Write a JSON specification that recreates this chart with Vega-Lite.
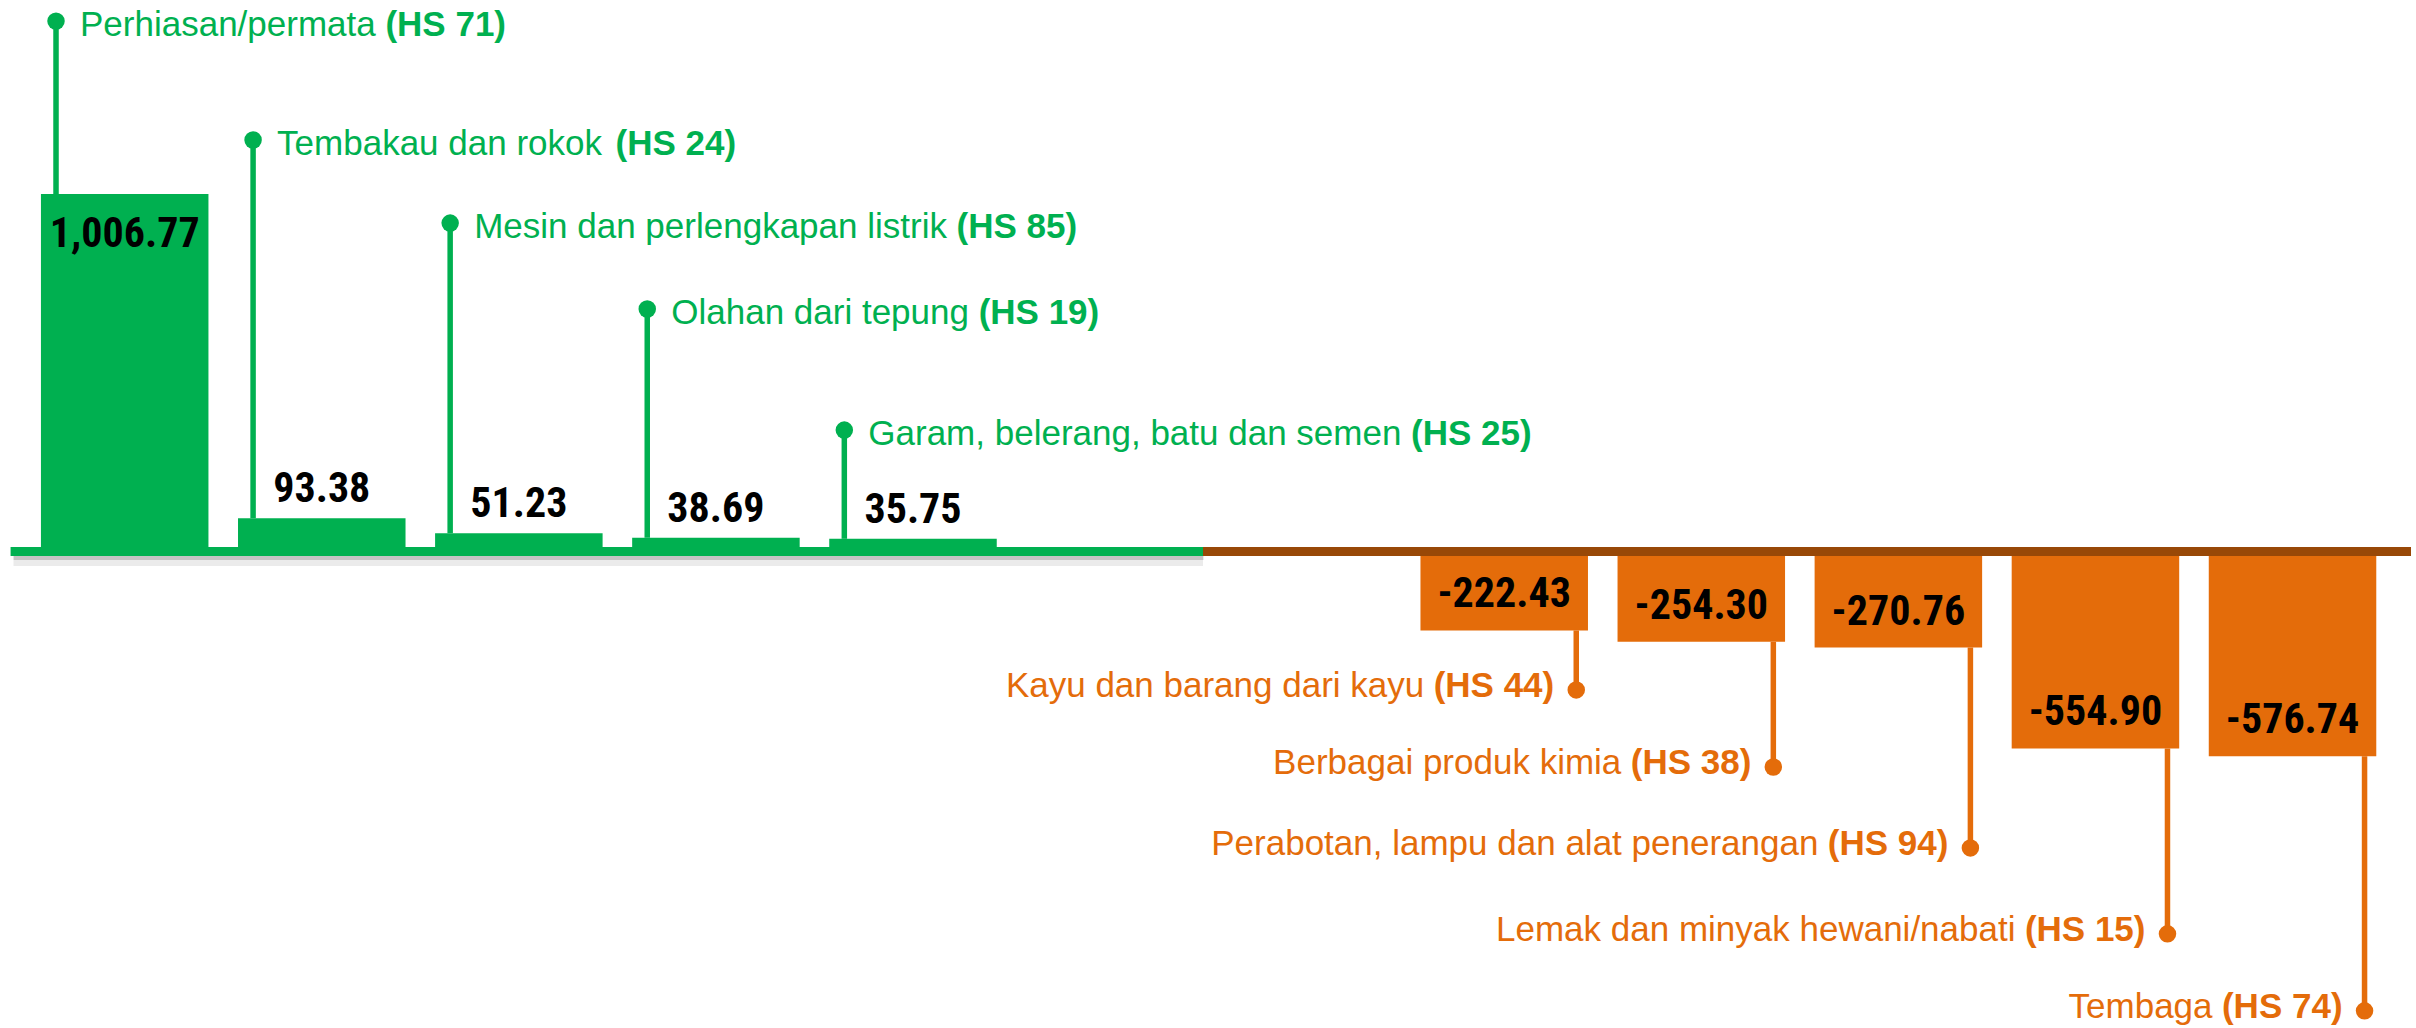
{
  "$schema": "https://vega.github.io/schema/vega-lite/v6.json",
  "width": 2416,
  "height": 1028,
  "padding": 0,
  "autosize": {"type": "fit", "contains": "padding"},
  "background": "white",
  "config": {
    "view": {"stroke": null},
    "locale": {"number": {"decimal": ".", "thousands": ",", "grouping": [3], "currency": ["$", ""], "minus": "-"}}
  },
  "data": {
    "values": [
      {"kategori": "Perhiasan/permata", "hs": "(HS 71)", "nilai": 1006.77, "titik": 1494},
      {"kategori": "Tembakau dan rokok", "hs": "(HS 24)", "nilai": 93.38, "titik": 1159},
      {"kategori": "Mesin dan perlengkapan listrik", "hs": "(HS 85)", "nilai": 51.23, "titik": 925},
      {"kategori": "Olahan dari tepung", "hs": "(HS 19)", "nilai": 38.69, "titik": 683},
      {"kategori": "Garam, belerang, batu dan semen", "hs": "(HS 25)", "nilai": 35.75, "titik": 342},
      {"kategori": "Kayu dan barang dari kayu", "hs": "(HS 44)", "nilai": -222.43, "titik": -390},
      {"kategori": "Berbagai produk kimia", "hs": "(HS 38)", "nilai": -254.30, "titik": -607},
      {"kategori": "Perabotan, lampu dan alat penerangan", "hs": "(HS 94)", "nilai": -270.76, "titik": -835},
      {"kategori": "Lemak dan minyak hewani/nabati", "hs": "(HS 15)", "nilai": -554.90, "titik": -1077},
      {"kategori": "Tembaga", "hs": "(HS 74)", "nilai": -576.74, "titik": -1294}
    ]
  },
  "encoding": {
    "x": {
      "field": "kategori",
      "type": "nominal",
      "axis": null,
      "sort": null,
      "scale": {
        "domain": ["Perhiasan/permata", "Tembakau dan rokok", "Mesin dan perlengkapan listrik", "Olahan dari tepung", "Garam, belerang, batu dan semen", "_gap1", "_gap2", "Kayu dan barang dari kayu", "Berbagai produk kimia", "Perabotan, lampu dan alat penerangan", "Lemak dan minyak hewani/nabati", "Tembaga"],
        "paddingInner": 0.15,
        "paddingOuter": 0.1945,
        "align": 0.534
      }
    }
  },
  "layer": [
    {
      "mark": {"type": "rule", "color": "#c4c4c4", "strokeWidth": 4, "yOffset": 6.5, "xOffset": 3},
      "encoding": {
        "x": {"datum": "Perhiasan/permata", "bandPosition": -0.179},
        "x2": {"datum": "_gap1", "bandPosition": 1.055},
        "y": {"datum": 0, "type": "quantitative", "axis": null, "scale": {"domain": [-1342.3, 1553.5], "nice": false, "zero": false}}
      }
    },
    {
      "mark": {"type": "rule", "color": "#ebebeb", "strokeWidth": 6, "yOffset": 11.5, "xOffset": 3},
      "encoding": {
        "x": {"datum": "Perhiasan/permata", "bandPosition": -0.179},
        "x2": {"datum": "_gap1", "bandPosition": 1.055},
        "y": {"datum": 0, "type": "quantitative", "axis": null, "scale": {"domain": [-1342.3, 1553.5], "nice": false, "zero": false}}
      }
    },
    {
      "transform": [{"filter": "datum.nilai > 0"}],
      "mark": {"type": "rule", "color": "#00B050", "strokeWidth": 5.5},
      "encoding": {
        "x": {"field": "kategori", "type": "nominal", "bandPosition": 0.09},
        "y": {"field": "nilai", "type": "quantitative", "axis": null, "scale": {"domain": [-1342.3, 1553.5], "nice": false, "zero": false}},
        "y2": {"field": "titik"}
      }
    },
    {
      "transform": [{"filter": "datum.nilai < 0"}],
      "mark": {"type": "rule", "color": "#E46C0A", "strokeWidth": 5.5},
      "encoding": {
        "x": {"field": "kategori", "type": "nominal", "bandPosition": 0.93},
        "y": {"field": "nilai", "type": "quantitative", "axis": null, "scale": {"domain": [-1342.3, 1553.5], "nice": false, "zero": false}},
        "y2": {"field": "titik"}
      }
    },
    {
      "transform": [{"filter": "datum.nilai > 0"}],
      "mark": {"type": "point", "filled": true, "opacity": 1, "size": 306, "color": "#00B050", "shape": "circle"},
      "encoding": {
        "x": {"field": "kategori", "type": "nominal", "bandPosition": 0.09},
        "y": {"field": "titik", "type": "quantitative", "axis": null, "scale": {"domain": [-1342.3, 1553.5], "nice": false, "zero": false}}
      }
    },
    {
      "transform": [{"filter": "datum.nilai < 0"}],
      "mark": {"type": "point", "filled": true, "opacity": 1, "size": 306, "color": "#E46C0A", "shape": "circle"},
      "encoding": {
        "x": {"field": "kategori", "type": "nominal", "bandPosition": 0.93},
        "y": {"field": "titik", "type": "quantitative", "axis": null, "scale": {"domain": [-1342.3, 1553.5], "nice": false, "zero": false}}
      }
    },
    {
      "mark": {"type": "bar"},
      "encoding": {
        "y": {"field": "nilai", "type": "quantitative", "axis": null, "scale": {"domain": [-1342.3, 1553.5], "nice": false, "zero": false}},
        "y2": {"datum": 0},
        "color": {"condition": {"test": "datum.nilai > 0", "value": "#00B050"}, "value": "#E46C0A"}
      }
    },
    {
      "mark": {"type": "rule", "color": "#00B050", "strokeWidth": 9},
      "encoding": {
        "x": {"datum": "Perhiasan/permata", "bandPosition": -0.179},
        "x2": {"datum": "_gap1", "bandPosition": 1.055},
        "y": {"datum": 0, "type": "quantitative", "axis": null, "scale": {"domain": [-1342.3, 1553.5], "nice": false, "zero": false}}
      }
    },
    {
      "mark": {"type": "rule", "color": "#984807", "strokeWidth": 9},
      "encoding": {
        "x": {"datum": "_gap1", "bandPosition": 1.055},
        "x2": {"datum": "Tembaga", "bandPosition": 1.207},
        "y": {"datum": 0, "type": "quantitative", "axis": null, "scale": {"domain": [-1342.3, 1553.5], "nice": false, "zero": false}}
      }
    },
    {
      "transform": [{"filter": "datum.nilai > 0"}],
      "mark": {"type": "text", "align": "left", "baseline": "middle", "dx": 24, "dy": 4, "font": "Liberation Sans", "fontSize": 35, "color": "#00B050"},
      "encoding": {
        "x": {"field": "kategori", "type": "nominal", "bandPosition": 0.09},
        "y": {"field": "titik", "type": "quantitative", "axis": null, "scale": {"domain": [-1342.3, 1553.5], "nice": false, "zero": false}},
        "text": {"field": "kategori"}
      }
    },
    {
      "transform": [{"filter": "datum.nilai > 0"}],
      "mark": {
        "type": "text", "align": "left", "baseline": "middle", "dy": 4, "font": "Liberation Sans", "fontSize": 35, "fontWeight": "bold", "color": "#00B050",
        "dx": {"expr": "24 + 35*(0.556*length(datum.kategori) + 0.278 - 0.334*(length(datum.kategori)-length(replace(datum.kategori, regexp('[ijl]','g'), ''))) - 0.278*(length(datum.kategori)-length(replace(datum.kategori, regexp('[tf/ ,.I]','g'), ''))) - 0.223*(length(datum.kategori)-length(replace(datum.kategori, regexp('[()r]','g'), ''))) - 0.056*(length(datum.kategori)-length(replace(datum.kategori, regexp('[sckvxyzJ]','g'), ''))) + 0.277*(length(datum.kategori)-length(replace(datum.kategori, regexp('[mM]','g'), ''))) + 0.166*(length(datum.kategori)-length(replace(datum.kategori, regexp('[wACDHNRU]','g'), ''))) + 0.111*(length(datum.kategori)-length(replace(datum.kategori, regexp('[PKBSEVXY]','g'), ''))) + 0.222*(length(datum.kategori)-length(replace(datum.kategori, regexp('[GOQ]','g'), ''))) + 0.055*(length(datum.kategori)-length(replace(datum.kategori, regexp('[TFZ]','g'), ''))))"}
      },
      "encoding": {
        "x": {"field": "kategori", "type": "nominal", "bandPosition": 0.09},
        "y": {"field": "titik", "type": "quantitative", "axis": null, "scale": {"domain": [-1342.3, 1553.5], "nice": false, "zero": false}},
        "text": {"field": "hs"}
      }
    },
    {
      "transform": [{"filter": "datum.nilai < 0"}],
      "mark": {"type": "text", "align": "right", "baseline": "middle", "dx": -22, "dy": -4, "font": "Liberation Sans", "fontSize": 35, "fontWeight": "bold", "color": "#E46C0A"},
      "encoding": {
        "x": {"field": "kategori", "type": "nominal", "bandPosition": 0.93},
        "y": {"field": "titik", "type": "quantitative", "axis": null, "scale": {"domain": [-1342.3, 1553.5], "nice": false, "zero": false}},
        "text": {"field": "hs"}
      }
    },
    {
      "transform": [{"filter": "datum.nilai < 0"}],
      "mark": {"type": "text", "align": "right", "baseline": "middle", "dx": -152, "dy": -4, "font": "Liberation Sans", "fontSize": 35, "color": "#E46C0A"},
      "encoding": {
        "x": {"field": "kategori", "type": "nominal", "bandPosition": 0.93},
        "y": {"field": "titik", "type": "quantitative", "axis": null, "scale": {"domain": [-1342.3, 1553.5], "nice": false, "zero": false}},
        "text": {"field": "kategori"}
      }
    },
    {
      "transform": [{"filter": "datum.nilai > 500"}],
      "mark": {"type": "text", "align": "center", "baseline": "middle", "dy": 40, "font": "Roboto Condensed", "fontSize": 42, "fontWeight": "bold", "color": "#000000"},
      "encoding": {
        "x": {"field": "kategori", "type": "nominal"},
        "y": {"field": "nilai", "type": "quantitative", "axis": null, "scale": {"domain": [-1342.3, 1553.5], "nice": false, "zero": false}},
        "text": {"field": "nilai", "type": "quantitative", "format": ",.2f"}
      }
    },
    {
      "transform": [{"filter": "datum.nilai > 0 && datum.nilai < 500"}],
      "mark": {"type": "text", "align": "center", "baseline": "alphabetic", "dy": -16, "font": "Roboto Condensed", "fontSize": 42, "fontWeight": "bold", "color": "#000000"},
      "encoding": {
        "x": {"field": "kategori", "type": "nominal"},
        "y": {"field": "nilai", "type": "quantitative", "axis": null, "scale": {"domain": [-1342.3, 1553.5], "nice": false, "zero": false}},
        "text": {"field": "nilai", "type": "quantitative", "format": ",.2f"}
      }
    },
    {
      "transform": [{"filter": "datum.nilai < 0"}],
      "mark": {"type": "text", "align": "center", "baseline": "middle", "dy": -36, "font": "Roboto Condensed", "fontSize": 42, "fontWeight": "bold", "color": "#000000"},
      "encoding": {
        "x": {"field": "kategori", "type": "nominal"},
        "y": {"field": "nilai", "type": "quantitative", "axis": null, "scale": {"domain": [-1342.3, 1553.5], "nice": false, "zero": false}},
        "text": {"field": "nilai", "type": "quantitative", "format": ",.2f"}
      }
    }
  ]
}
